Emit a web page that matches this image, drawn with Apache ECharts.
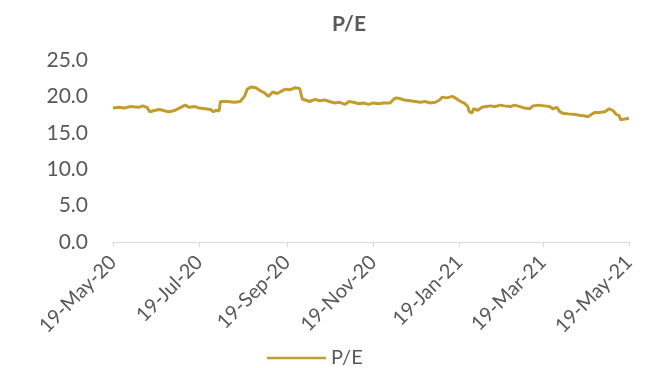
<!DOCTYPE html>
<html>
<head>
<meta charset="utf-8">
<script src="https://cdn.jsdelivr.net/npm/echarts@6/dist/echarts.min.js"></script>
<style>
  html, body { margin: 0; padding: 0; background: #fff; }
  #chart { width: 657px; height: 368px; }
</style>
</head>
<body>
<div id="chart"></div>
<script>
// Daily P/E readings (date, ratio)
const dates = [
  '2020-05-19','2020-05-23','2020-05-27','2020-05-31','2020-06-06','2020-06-09','2020-06-12','2020-06-14',
  '2020-06-18','2020-06-21','2020-06-25','2020-06-28','2020-07-02','2020-07-05','2020-07-09','2020-07-12',
  '2020-07-16','2020-07-19','2020-07-23','2020-07-27','2020-07-29','2020-07-31','2020-08-02','2020-08-03',
  '2020-08-08','2020-08-13','2020-08-17','2020-08-20','2020-08-22','2020-08-25','2020-08-28','2020-08-31',
  '2020-09-03','2020-09-06','2020-09-07','2020-09-09','2020-09-12','2020-09-15','2020-09-18','2020-09-21',
  '2020-09-25','2020-09-28','2020-09-30','2020-10-02','2020-10-05','2020-10-09','2020-10-12','2020-10-16',
  '2020-10-19','2020-10-23','2020-10-26','2020-10-30','2020-11-02','2020-11-05','2020-11-09','2020-11-12',
  '2020-11-16','2020-11-19','2020-11-23','2020-11-26','2020-12-01','2020-12-03','2020-12-05','2020-12-08',
  '2020-12-11','2020-12-15','2020-12-19','2020-12-22','2020-12-26','2020-12-29','2021-01-02','2021-01-05',
  '2021-01-07','2021-01-10','2021-01-14','2021-01-17','2021-01-19','2021-01-23','2021-01-25','2021-01-26',
  '2021-01-28','2021-01-29','2021-02-01','2021-02-04','2021-02-07','2021-02-10','2021-02-13','2021-02-17',
  '2021-02-20','2021-02-24','2021-02-27','2021-03-03','2021-03-06','2021-03-10','2021-03-12','2021-03-16',
  '2021-03-20','2021-03-24','2021-03-26','2021-03-29','2021-03-31','2021-04-02','2021-04-06','2021-04-11',
  '2021-04-14','2021-04-18','2021-04-20','2021-04-23','2021-04-25','2021-04-28','2021-05-02','2021-05-05',
  '2021-05-08','2021-05-10','2021-05-12','2021-05-13','2021-05-16','2021-05-19'
];
const peValues = [
  18.4, 18.5, 18.4, 18.6, 18.5, 18.7, 18.5, 17.9,
  18.1, 18.2, 18.0, 17.9, 18.1, 18.4, 18.8, 18.5,
  18.6, 18.4, 18.3, 18.2, 17.9, 18.1, 18.0, 19.3,
  19.3, 19.2, 19.3, 20.0, 21.0, 21.3, 21.2, 20.8,
  20.5, 20.0, 19.8, 20.6, 20.4, 20.7, 21.0, 20.9,
  21.2, 21.1, 19.6, 19.5, 19.3, 19.6, 19.4, 19.5,
  19.3, 19.1, 19.2, 18.9, 19.3, 19.2, 19.0, 19.1,
  18.9, 19.1, 19.0, 19.1, 19.1, 19.5, 19.8, 19.7,
  19.5, 19.4, 19.3, 19.2, 19.3, 19.1, 19.2, 19.5,
  19.9, 19.8, 20.0, 19.7, 19.4, 19.0, 18.6, 17.9,
  17.7, 18.3, 18.1, 18.5, 18.6, 18.7, 18.6, 18.8,
  18.7, 18.6, 18.8, 18.6, 18.4, 18.3, 18.7, 18.8,
  18.7, 18.6, 18.3, 18.5, 17.9, 17.7, 17.6, 17.5,
  17.4, 17.3, 17.2, 17.6, 17.8, 17.8, 17.9, 18.3,
  18.0, 17.5, 17.4, 16.8, 16.9, 17.0
];
// Axis tick dates and value ticks
const tickDates = ['2020-05-19','2020-07-19','2020-09-19','2020-11-19','2021-01-19','2021-03-19','2021-05-19'];
const yTicks = [0, 5, 10, 15, 20, 25];
const monthNames = ['Jan','Feb','Mar','Apr','May','Jun','Jul','Aug','Sep','Oct','Nov','Dec'];

// Day number (UTC midnight) for a yyyy-mm-dd string
const DAY = 86400000;
const toDay = s => { const [y, m, d] = s.split('-').map(Number); return Date.UTC(y, m - 1, d) / DAY; };
const fmtDay = n => {
  const d = new Date(Math.round(n) * DAY);
  return d.getUTCDate() + '-' + monthNames[d.getUTCMonth()] + '-' + String(d.getUTCFullYear()).slice(2);
};

const textColor = '#595959';
const lineColor = '#C29C2D';
const font = 'Lato, "Open Sans", sans-serif';
const tickDays = tickDates.map(toDay);

const chart = echarts.init(document.getElementById('chart'), null, { renderer: 'canvas' });
chart.setOption({
  animation: false,
  backgroundColor: '#ffffff',
  title: {
    text: 'P/E',
    left: 344, top: 9, textAlign: 'center',
    textStyle: { color: textColor, fontSize: 21, fontWeight: 'bold', fontFamily: font }
  },
  legend: {
    data: ['P/E'],
    left: 262, top: 343,
    itemWidth: 59, itemHeight: 14, itemGap: 5,
    icon: 'path://M0,6 L58,6 L58,8.6 L0,8.6 Z',
    textStyle: { color: textColor, fontSize: 20, fontFamily: font }
  },
  grid: { left: 113, right: 28, top: 60, bottom: 126, containLabel: false },
  xAxis: {
    type: 'value',
    min: tickDays[0],
    max: tickDays[tickDays.length - 1],
    axisLine: { show: true, lineStyle: { color: '#D9D9D9', width: 1 } },
    axisTick: { show: true, length: 5, lineStyle: { color: '#D9D9D9' }, customValues: tickDays },
    axisLabel: {
      customValues: tickDays,
      formatter: v => fmtDay(v),
      rotate: 45, margin: 17,
      color: textColor, fontSize: 20, fontFamily: font, hideOverlap: false,
      showMinLabel: true, showMaxLabel: true
    },
    splitLine: { show: false }
  },
  yAxis: {
    type: 'value',
    min: yTicks[0], max: yTicks[yTicks.length - 1], interval: 5,
    axisLine: { show: false }, axisTick: { show: false },
    splitLine: { show: false },
    axisLabel: { formatter: v => v.toFixed(1), color: textColor, fontSize: 21, fontFamily: font, margin: 25 }
  },
  series: [{
    name: 'P/E',
    type: 'line',
    data: dates.map((d, i) => [toDay(d), peValues[i]]),
    showSymbol: false,
    lineStyle: { color: lineColor, width: 3 },
    itemStyle: { color: lineColor }
  }]
});
</script>
</body>
</html>
